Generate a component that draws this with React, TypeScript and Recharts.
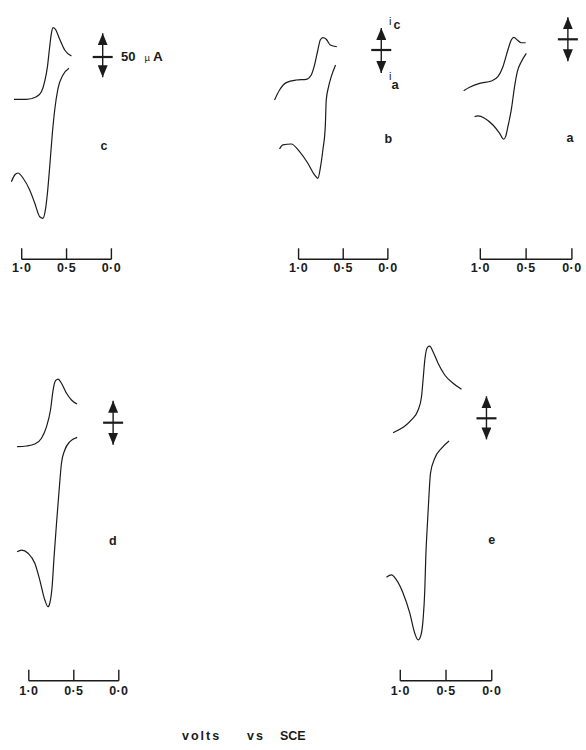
import React from 'react';
import { LineChart, Line, XAxis, YAxis, ReferenceLine } from 'recharts';

type Pt = [number, number]; // [potential (V vs SCE), current (µA)]

// ---- axis ticks -------------------------------------------------------
const voltTicks = [1.0, 0.5, 0.0];
const voltTickLabels = ['1·0', '0·5', '0·0'];
const scaleBarLabel = '50';

// ---- curve c ----------------------------------------------------------
const cCathodic: Pt[] = [
  [1.086, -48.1], [0.948, -48.1], [0.836, -45.1], [0.78, -39.4], [0.744, -28.1],
  [0.713, -11.0], [0.688, 11.7], [0.669, 26.9], [0.651, 33.3], [0.624, 31.5],
  [0.576, 20.1], [0.521, 8.0], [0.446, 1.1],
];
const cAnodic: Pt[] = [
  [1.115, -141.7], [1.078, -134.1], [1.041, -131.8], [0.986, -137.5], [0.911, -151.1],
  [0.855, -165.9], [0.799, -181.5], [0.763, -183.3], [0.736, -173.8], [0.713, -154.5],
  [0.688, -125.0], [0.658, -86.4], [0.632, -60.2], [0.595, -35.6], [0.54, -20.5],
  [0.473, -12.8],
];

// ---- curve b ----------------------------------------------------------
const bCathodic: Pt[] = [
  [1.269, -56.8], [1.213, -45.5], [1.138, -37.1], [1.026, -34.1], [0.914, -33.3],
  [0.858, -28.4], [0.821, -17.0], [0.784, 0.0], [0.757, 11.4], [0.728, 14.0],
  [0.69, 12.2], [0.645, 5.7], [0.571, 3.7],
];
const bAnodic: Pt[] = [
  [1.213, -112.5], [1.176, -107.9], [1.082, -106.8], [0.989, -115.5], [0.896, -128.7],
  [0.821, -142.0], [0.784, -145.8], [0.754, -132.6], [0.728, -113.6], [0.701, -87.1],
  [0.69, -56.8], [0.664, -41.7], [0.634, -30.3], [0.586, -17.0],
];

// ---- curve a ----------------------------------------------------------
const aCathodic: Pt[] = [
  [1.182, -58.4], [1.117, -54.5], [1.008, -50.0], [0.88, -47.4], [0.808, -42.5],
  [0.753, -31.1], [0.699, -12.2], [0.662, -0.8], [0.633, 2.3], [0.596, -0.8],
  [0.552, -3.9], [0.505, -3.9],
];
const aAnodic: Pt[] = [
  [1.062, -87.9], [1.026, -87.1], [0.953, -89.7], [0.862, -97.4], [0.789, -106.8],
  [0.746, -113.6], [0.724, -110.6], [0.699, -99.3], [0.662, -80.3], [0.626, -53.8],
  [0.596, -36.8], [0.552, -25.4], [0.498, -15.9],
];

// ---- curve d ----------------------------------------------------------
const dCathodic: Pt[] = [
  [1.13, -27.3], [1.026, -26.5], [0.933, -24.2], [0.859, -17.7], [0.803, -4.5],
  [0.759, 14.4], [0.73, 37.1], [0.703, 47.7], [0.674, 49.6], [0.637, 44.8],
  [0.581, 33.4], [0.526, 25.8], [0.463, 21.2],
];
const dAnodic: Pt[] = [
  [1.13, -146.6], [1.081, -144.7], [1.008, -148.4], [0.933, -159.8], [0.878, -178.8],
  [0.822, -201.5], [0.786, -209.1], [0.767, -205.2], [0.741, -186.4], [0.719, -152.2],
  [0.692, -114.3], [0.663, -76.5], [0.637, -46.1], [0.6, -31.0], [0.544, -21.6],
  [0.463, -16.6],
];

// ---- curve e ----------------------------------------------------------
const eCathodic: Pt[] = [
  [1.079, -16.4], [0.969, -10.2], [0.878, -1.9], [0.805, 9.4], [0.768, 24.5],
  [0.751, 43.5], [0.732, 66.2], [0.703, 80.7], [0.678, 82.1], [0.642, 75.7],
  [0.587, 62.5], [0.514, 49.2], [0.423, 39.8], [0.331, 32.9],
];
const eAnodic: Pt[] = [
  [1.151, -180.6], [1.096, -178.0], [1.042, -183.7], [0.969, -198.8], [0.896, -221.5],
  [0.842, -244.2], [0.805, -251.9], [0.779, -248.1], [0.751, -229.1], [0.732, -195.1],
  [0.721, -157.2], [0.703, -119.3], [0.689, -92.8], [0.67, -62.5], [0.623, -45.4],
  [0.55, -34.1], [0.467, -25.8],
];

// ---- layout / style ---------------------------------------------------
const FONT = '"Liberation Sans", Arial, Helvetica, sans-serif';
const INK = '#1b1b1b';
const X_MAX = 1.32;
const PX_PER_UA = 0.88;
const AXIS_H = 30;
const RIGHT_PAD = 14;

interface PanelSpec {
  id: string;
  cathodic: Pt[];
  anodic: Pt[];
  x0: number; // pixel of 0.0 V
  pxPerV: number;
  axisY: number;
  zeroY: number;
  topY: number;
  arrowV: number;
  arrowTop: number;
  arrowBottom: number;
  labelGap: number;
}

const panels: PanelSpec[] = [
  { id: 'c', cathodic: cCathodic, anodic: cAnodic, x0: 111.7, pxPerV: 89.7, axisY: 259.3, zeroY: 57, topY: 5, arrowV: 0.097, arrowTop: 27, arrowBottom: -23, labelGap: 12.5 },
  { id: 'b', cathodic: bCathodic, anodic: bAnodic, x0: 388.3, pxPerV: 89.3, axisY: 259.3, zeroY: 50, topY: 5, arrowV: 0.074, arrowTop: 25, arrowBottom: -26, labelGap: 12.5 },
  { id: 'a', cathodic: aCathodic, anodic: aAnodic, x0: 572.3, pxPerV: 91.6, axisY: 259.3, zeroY: 39.3, topY: 5, arrowV: 0.044, arrowTop: 25, arrowBottom: -25, labelGap: 12.5 },
  { id: 'd', cathodic: dCathodic, anodic: dAnodic, x0: 119, pxPerV: 90, axisY: 680.7, zeroY: 422.7, topY: 335, arrowV: 0.063, arrowTop: 25, arrowBottom: -25, labelGap: 14 },
  { id: 'e', cathodic: eCathodic, anodic: eAnodic, x0: 492, pxPerV: 91.5, axisY: 680.7, zeroY: 418.3, topY: 335, arrowV: 0.058, arrowTop: 25, arrowBottom: -24, labelGap: 14 },
];

const toRows = (pts: Pt[]) => pts.map(([v, i]) => ({ v, i }));

const makeTick = (gap: number) => (props: any) => {
  const { x, y, payload } = props;
  const idx = voltTicks.indexOf(payload.value);
  return (
    <g>
      <line x1={x} y1={y} x2={x} y2={y - 11} stroke={INK} strokeWidth={1.4} />
      <text
        x={x}
        y={y + gap}
        textAnchor="middle"
        fontFamily={FONT}
        fontWeight="bold"
        fontSize={12.5}
        letterSpacing={0.4}
        fill={INK}
      >
        {voltTickLabels[idx]}
      </text>
    </g>
  );
};

function CVPanel({ spec }: { spec: PanelSpec }) {
  const plotW = X_MAX * spec.pxPerV;
  const plotH = spec.axisY - spec.topY;
  const yMin = -(spec.axisY - spec.zeroY) / PX_PER_UA;
  const yMax = (spec.zeroY - spec.topY) / PX_PER_UA;
  const left = spec.x0 - plotW;
  const width = plotW + RIGHT_PAD;
  const height = plotH + AXIS_H;
  const barHalf = 10 / spec.pxPerV;
  return (
    <div style={{ position: 'absolute', left, top: spec.topY, width, height }}>
      <LineChart width={width} height={height} margin={{ top: 0, right: RIGHT_PAD, bottom: 0, left: 0 }}>
        <XAxis
          type="number"
          dataKey="v"
          domain={[0, X_MAX]}
          reversed
          allowDataOverflow
          ticks={voltTicks}
          interval={0}
          tickSize={0}
          tickMargin={0}
          axisLine={false}
          tickLine={false}
          height={AXIS_H}
          tick={makeTick(spec.labelGap)}
        />
        <YAxis type="number" dataKey="i" domain={[yMin, yMax]} allowDataOverflow hide />
        <ReferenceLine
          segment={[{ x: 1, y: yMin }, { x: 0, y: yMin }]}
          stroke={INK}
          strokeWidth={1.4}
          ifOverflow="visible"
        />
        <ReferenceLine
          segment={[{ x: spec.arrowV, y: spec.arrowTop }, { x: spec.arrowV, y: spec.arrowBottom }]}
          stroke={INK}
          strokeWidth={1.4}
          markerStart="url(#cvArrowHead)"
          markerEnd="url(#cvArrowHead)"
          ifOverflow="visible"
        />
        <ReferenceLine
          segment={[{ x: spec.arrowV + barHalf, y: 0 }, { x: spec.arrowV - barHalf, y: 0 }]}
          stroke={INK}
          strokeWidth={2.2}
          ifOverflow="visible"
        />
        <Line
          data={toRows(spec.cathodic)}
          dataKey="i"
          type="monotone"
          stroke={INK}
          strokeWidth={1.2}
          dot={false}
          isAnimationActive={false}
        />
        <Line
          data={toRows(spec.anodic)}
          dataKey="i"
          type="monotone"
          stroke={INK}
          strokeWidth={1.2}
          dot={false}
          isAnimationActive={false}
        />
      </LineChart>
    </div>
  );
}

const bold = { fontFamily: FONT, fontWeight: 700, fill: INK } as const;

export default function App() {
  return (
    <div
      style={{
        position: 'absolute',
        left: 0,
        top: 0,
        width: 586,
        height: 750,
        overflow: 'hidden',
        background: '#fff',
        fontFamily: FONT,
      }}
    >
      <svg width={0} height={0} style={{ position: 'absolute' }}>
        <defs>
          <marker
            id="cvArrowHead"
            viewBox="0 0 12 10"
            refX={12}
            refY={5}
            markerWidth={12}
            markerHeight={10}
            markerUnits="userSpaceOnUse"
            orient="auto-start-reverse"
          >
            <path d="M0,0 L12,5 L0,10 Z" fill={INK} />
          </marker>
        </defs>
      </svg>
      {panels.map((p) => (
        <CVPanel key={p.id} spec={p} />
      ))}
      <svg width={586} height={750} style={{ position: 'absolute', left: 0, top: 0, pointerEvents: 'none' }}>
        {/* scale bar label */}
        <text x={121} y={61} {...bold} fontSize={13}>
          {scaleBarLabel}
          <tspan dx={9} fontSize={9.5} fontWeight={400}>µ</tspan>
          <tspan dx={3} fontSize={13.5}>A</tspan>
        </text>
        {/* current direction labels */}
        <text x={389} y={25} fontFamily={FONT} fontSize={11} fill={INK}>i</text>
        <text x={393.5} y={29} {...bold} fontSize={12.5}>c</text>
        <text x={389} y={80} fontFamily={FONT} fontSize={11} fill={INK}>i</text>
        <text x={391.5} y={89} {...bold} fontSize={13}>a</text>
        {/* panel letters */}
        <text x={104} y={150} textAnchor="middle" {...bold} fontSize={12.5}>c</text>
        <text x={388.3} y={143.3} textAnchor="middle" {...bold} fontSize={12.5}>b</text>
        <text x={570} y={141.7} textAnchor="middle" {...bold} fontSize={12.5}>a</text>
        <text x={112.7} y={545} textAnchor="middle" {...bold} fontSize={12.5}>d</text>
        <text x={491.7} y={544} textAnchor="middle" {...bold} fontSize={12.5}>e</text>
        {/* x-axis caption */}
        <text x={182} y={740} {...bold} fontSize={12.5} letterSpacing={2}>volts</text>
        <text x={247} y={740} {...bold} fontSize={12.5} letterSpacing={2}>vs</text>
        <text x={280} y={740} {...bold} fontSize={12.5}>SCE</text>
      </svg>
    </div>
  );
}
